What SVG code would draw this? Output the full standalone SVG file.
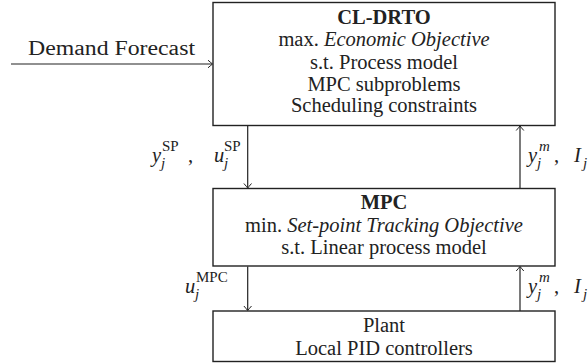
<svg xmlns="http://www.w3.org/2000/svg" width="588" height="364" viewBox="0 0 588 364">
<style>
.box{fill:#fff;stroke:#222;stroke-width:1.4}
.t{font-family:"Liberation Serif","Times New Roman",serif;font-size:20.5px;fill:#222;text-anchor:middle}
.b{font-weight:bold}
.i{font-style:italic}
.m{font-family:"Liberation Serif","Times New Roman",serif;font-size:20.5px;fill:#222}
.s{font-size:15px;font-style:normal}
.sub{font-size:15px;font-style:italic}
.c{stroke:#222;stroke-width:1.2;fill:none}
</style>
<defs>
<marker id="ah" viewBox="-5 -5 7 10" markerWidth="7" markerHeight="10" refX="0" refY="0" orient="auto" markerUnits="userSpaceOnUse">
<path d="M-4,-3.8 Q-0.8,-1 0.6,0 Q-0.8,1 -4,3.8" fill="none" stroke="#222" stroke-width="1"/>
</marker>
</defs>
<g id="connectors">
<line class="c" x1="11" y1="64" x2="212" y2="64" marker-end="url(#ah)"/>
<line class="c" x1="247.7" y1="126" x2="247.7" y2="187.5" marker-end="url(#ah)"/>
<line class="c" x1="520" y1="188" x2="520" y2="126.5" marker-end="url(#ah)"/>
<line class="c" x1="247.7" y1="266.5" x2="247.7" y2="310" marker-end="url(#ah)"/>
<line class="c" x1="520" y1="311" x2="520" y2="267" marker-end="url(#ah)"/>
<text class="m" x="28" y="55" textLength="167" lengthAdjust="spacingAndGlyphs">Demand Forecast</text>
<text class="m"><tspan class="i" x="152" y="162">y</tspan><tspan class="sub" x="161" y="168">j</tspan><tspan class="s" x="162" y="151">SP</tspan><tspan x="188" y="162">,</tspan><tspan class="i" x="214" y="162">u</tspan><tspan class="sub" x="224" y="168">j</tspan><tspan class="s" x="224" y="151">SP</tspan></text>
<text class="m"><tspan class="i" x="528" y="162">y</tspan><tspan class="sub" x="537" y="168">j</tspan><tspan class="i" style="font-size:15px" x="539" y="151">m</tspan><tspan x="554" y="162">,</tspan><tspan class="i" x="574" y="162">I</tspan><tspan class="sub" x="583" y="168">j</tspan></text>
<text class="m"><tspan class="i" x="185" y="293">u</tspan><tspan class="sub" x="195" y="299">j</tspan><tspan class="s" x="196" y="282">MPC</tspan></text>
<text class="m"><tspan class="i" x="528" y="293">y</tspan><tspan class="sub" x="537" y="299">j</tspan><tspan class="i" style="font-size:15px" x="539" y="282">m</tspan><tspan x="554" y="293">,</tspan><tspan class="i" x="574" y="293">I</tspan><tspan class="sub" x="583" y="299">j</tspan></text>
</g>
<g id="cldrto">
<rect class="box" x="213" y="2.5" width="342" height="123"/>
<text class="t b" x="384" y="24">CL-DRTO</text>
<text class="t" x="384" y="46">max. <tspan class="i">Economic Objective</tspan></text>
<text class="t" x="384" y="68.5">s.t. Process model</text>
<text class="t" x="384" y="90.5">MPC subproblems</text>
<text class="t" x="384" y="112">Scheduling constraints</text>
</g>
<g id="mpc">
<rect class="box" x="213" y="188.5" width="342" height="77.5"/>
<text class="t b" x="384" y="208.5">MPC</text>
<text class="t" x="384" y="231.5">min. <tspan class="i">Set-point Tracking Objective</tspan></text>
<text class="t" x="384" y="254">s.t. Linear process model</text>
</g>
<g id="plant">
<rect class="box" x="213" y="311" width="342" height="50.5"/>
<text class="t" x="384" y="332">Plant</text>
<text class="t" x="384" y="354.5">Local PID controllers</text>
</g>
</svg>
